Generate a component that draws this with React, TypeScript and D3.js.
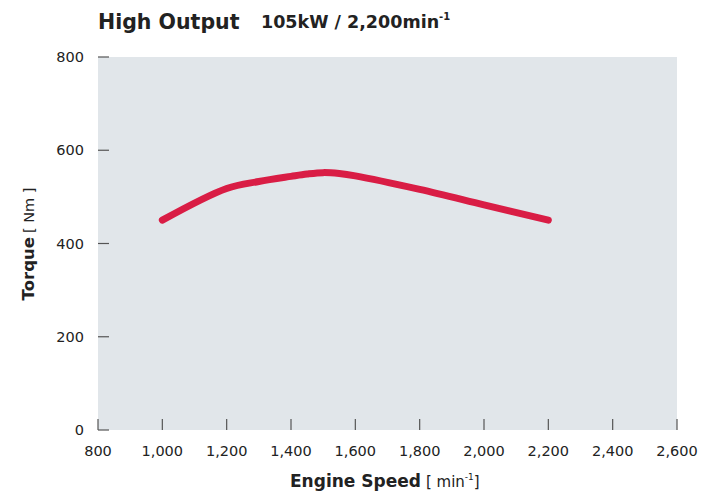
import React from "react";
import * as d3 from "d3";

const speeds = [1000, 1200, 1300, 1400, 1450, 1500, 1550, 1600, 1800, 2000, 2200];
const torque = [450, 518, 533, 544, 549, 552, 550, 545, 516, 483, 450];
const xTicks = [800, 1000, 1200, 1400, 1600, 1800, 2000, 2200, 2400, 2600];
const yTicks = [0, 200, 400, 600, 800];

const W = 701, H = 492;
const left = 98, right = 677, top = 57, bottom = 430;
const font = "'DejaVu Sans', sans-serif";

export default function App() {
  const x = d3.scaleLinear().domain([800, 2600]).range([left, right]);
  const y = d3.scaleLinear().domain([0, 800]).range([bottom, top]);
  const line = d3
    .line<number>()
    .x((_, i) => x(speeds[i]))
    .y((d) => y(d))
    .curve(d3.curveCatmullRom.alpha(0.5));
  const fmt = d3.format(",");
  return (
    <svg width={W} height={H} style={{ position: "absolute", left: 0, top: 0 }}>
      <rect x={0} y={0} width={W} height={H} fill="#fff" />
      <rect x={left} y={top} width={right - left} height={bottom - top} fill="#e1e6ea" />
      {yTicks.map((t) => (
        <g key={"y" + t}>
          <line x1={left} x2={left + 11} y1={y(t)} y2={y(t)} stroke="#555" strokeWidth={1.2} />
          <text x={left - 14} y={y(t)} dy="0.35em" textAnchor="end" fontFamily={font} fontSize={14.5} fill="#222">
            {t}
          </text>
        </g>
      ))}
      {xTicks.map((t) => (
        <g key={"x" + t}>
          <line x1={x(t)} x2={x(t)} y1={bottom} y2={bottom - 11} stroke="#555" strokeWidth={1.2} />
          <text x={x(t)} y={456} textAnchor="middle" fontFamily={font} fontSize={14.5} fill="#222">
            {fmt(t)}
          </text>
        </g>
      ))}
      <path d={line(torque) || ""} fill="none" stroke="#d91d45" strokeWidth={7} strokeLinecap="round" strokeLinejoin="round" />
      <text x={98} y={29} fontFamily={font} fontSize={20.5} fontWeight="bold" fill="#222">
        High Output
      </text>
      <text x={261} y={28} fontFamily={font} fontSize={17.5} fontWeight="bold" fill="#222">
        105kW / 2,200min<tspan fontSize={10} dy={-8}>-1</tspan>
      </text>
      <text x={290} y={487} fontFamily={font} fontSize={17} fill="#222">
        <tspan fontWeight="bold">Engine Speed</tspan>
        <tspan fontSize={15} dx={5}>[ min</tspan>
        <tspan fontSize={9} dy={-7}>-1</tspan>
        <tspan fontSize={15} dy={7}>]</tspan>
      </text>
      <text
        transform={`translate(34,${244}) rotate(-90)`}
        textAnchor="middle"
        fontFamily={font}
        fontSize={16.5}
        fill="#222"
      >
        <tspan fontWeight="bold">Torque</tspan>
        <tspan fontSize={14.5} dx={4}>[ Nm ]</tspan>
      </text>
    </svg>
  );
}
